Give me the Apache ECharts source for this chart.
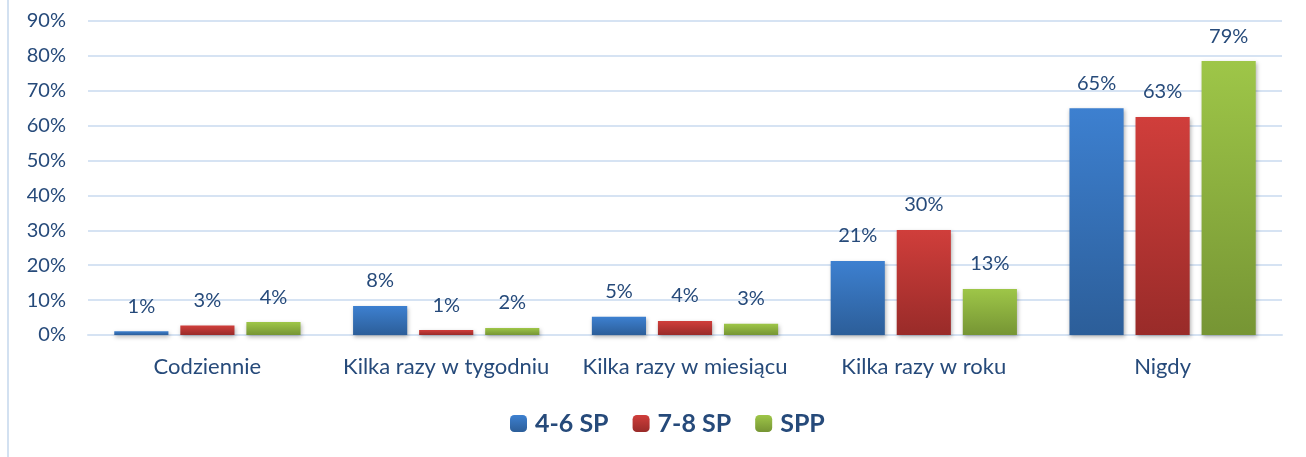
<!DOCTYPE html>
<html>
<head>
<meta charset="utf-8">
<script src="https://cdn.jsdelivr.net/npm/echarts@6/dist/echarts.min.js"></script>
<style>
  html, body { margin: 0; padding: 0; background: #fff; }
  #chart { width: 1306px; height: 457px; }
</style>
</head>
<body>
<div id="chart"></div>
<script>
// categories and values (percent)
const categories = ["Codziennie", "Kilka razy w tygodniu", "Kilka razy w miesiącu", "Kilka razy w roku", "Nigdy"];
const seriesNames = ["4-6 SP", "7-8 SP", "SPP"];
const sp46 = [1.1, 8.3, 5.2, 21.2, 65.0];
const sp78 = [2.7, 1.4, 4.0, 30.1, 62.5];
const spp = [3.7, 2.0, 3.2, 13.2, 78.5];

const textColor = "#264a7a";
const font = "Lato";
const colors = [
  ["#3d80d0", "#2c5e99"],
  ["#d03e3b", "#992b29"],
  ["#9ec648", "#769534"]
];

const chart = echarts.init(document.getElementById("chart"));

function makeSeries(name, data, key) {
  return {
    name: name,
    type: "bar",
    data: data,
    barGap: "22%",
    barCategoryGap: "22%",
    itemStyle: {
      color: new echarts.graphic.LinearGradient(0, 0, 0, 1, [
        { offset: 0, color: colors[key][0] },
        { offset: 1, color: colors[key][1] }
      ]),
      shadowColor: "rgba(0,0,0,0.3)",
      shadowBlur: 4,
      shadowOffsetX: 1,
      shadowOffsetY: 2
    },
    label: {
      show: true,
      position: "top",
      distance: 15,
      color: textColor,
      fontSize: 20,
      fontFamily: font,
      formatter: p => Math.round(p.value) + "%"
    }
  };
}

chart.setOption({
  animation: false,
  textStyle: { fontFamily: font },
  graphic: [{
    type: "rect",
    shape: { x: 7, y: 0, width: 2, height: 457 },
    style: { fill: "#d3e1f1" }
  }],
  grid: { left: 88, right: 24, top: 21, bottom: 122 },
  legend: {
    left: 505,
    bottom: 16,
    itemWidth: 17,
    itemHeight: 17,
    itemGap: 24,
    textStyle: { color: textColor, fontSize: 25, fontWeight: "bold", fontFamily: font, padding: [0, 0, 0, 3] },
    data: seriesNames
  },
  xAxis: {
    type: "category",
    data: categories,
    axisLine: { show: true, lineStyle: { color: "#d6e3f3", width: 2 } },
    axisTick: { show: false },
    axisLabel: { color: textColor, fontSize: 22, margin: 21, interval: 0, fontFamily: font }
  },
  yAxis: {
    type: "value",
    min: 0,
    max: 90,
    interval: 10,
    axisLine: { show: false },
    axisTick: { show: false },
    splitLine: { lineStyle: { color: "#d6e3f3", width: 2 } },
    axisLabel: { color: textColor, fontSize: 20, margin: 22, formatter: "{value}%", fontFamily: font }
  },
  series: [
    makeSeries(seriesNames[0], sp46, 0),
    makeSeries(seriesNames[1], sp78, 1),
    makeSeries(seriesNames[2], spp, 2)
  ]
});
</script>
</body>
</html>
